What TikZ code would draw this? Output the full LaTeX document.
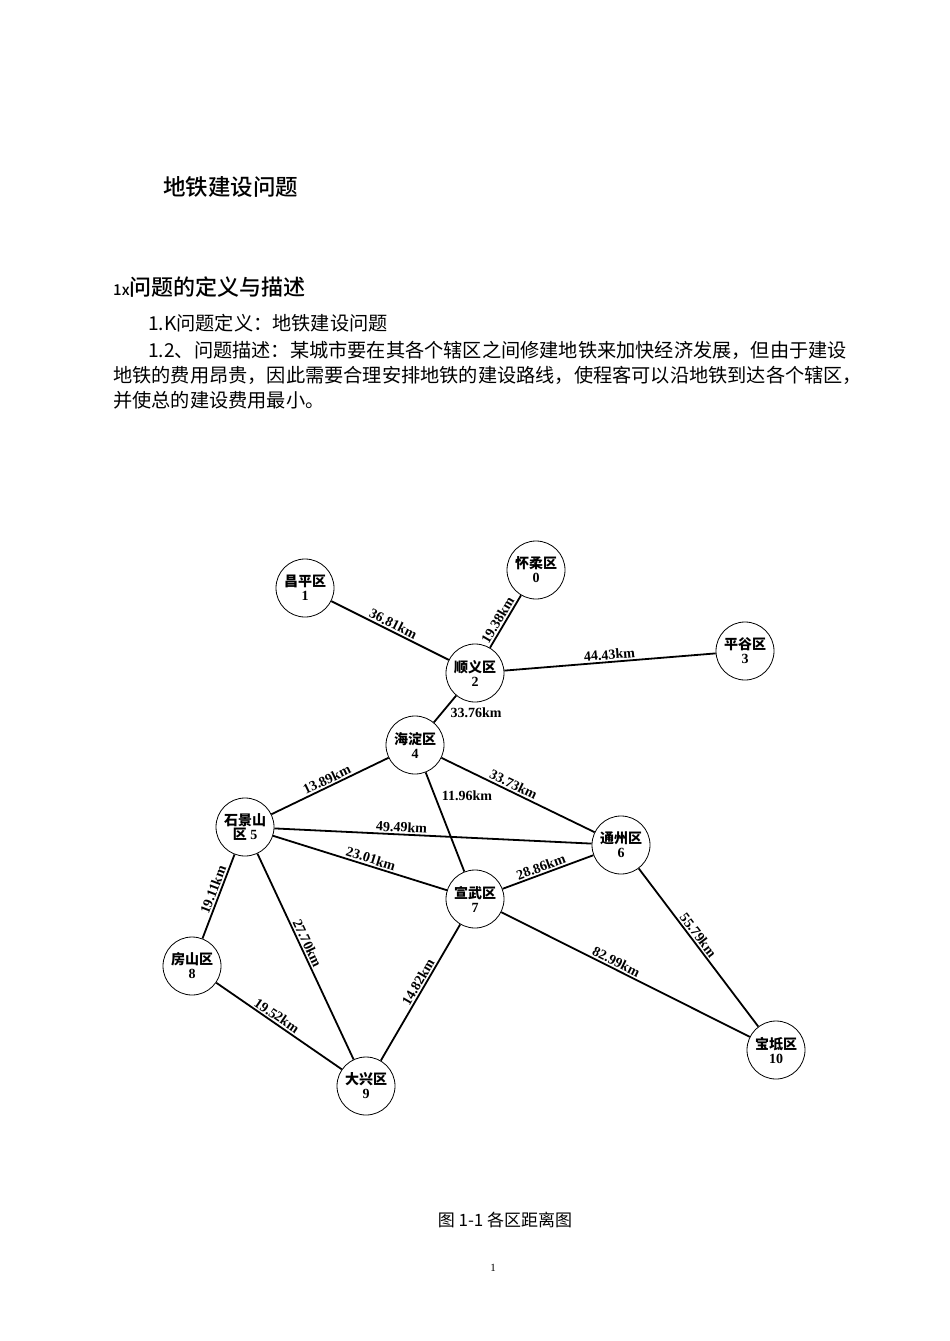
\documentclass[tikz,border=0pt]{standalone}
\usepackage{fontspec}
\setmainfont{Liberation Serif}
\newfontfamily\cjk{Noto Sans CJK SC}
\newfontfamily\cjkb{Noto Sans CJK SC Bold}
\newfontfamily\cjkm{Noto Sans CJK SC Medium}
\begin{document}
\begin{tikzpicture}[x=1pt,y=-1pt,
  district/.style={circle,draw,line width=0.8pt,minimum size=58pt,inner sep=0pt,align=center,font=\fontsize{14}{14}\selectfont\bfseries},
  edge/.style={line width=1.8pt},
  lab/.style={font=\fontsize{14}{14}\selectfont\bfseries,inner sep=1.5pt,sloped,above},
  body/.style={anchor=west,inner sep=0pt,font=\cjk\fontsize{19.2}{19.2}\selectfont}]
\useasboundingbox[fill=white] (0,0) rectangle (950,1341);
\node[anchor=west,inner sep=0pt,font=\cjkm\fontsize{22.5}{22.5}\selectfont] (title) at (163,187) {地铁建设问题};
\node[anchor=west,inner sep=0pt,font=\cjkm\fontsize{22}{22}\selectfont] (sec) at (113,287) {{\fontsize{15}{15}\selectfont 1x}问题的定义与描述};
\node[body] (l1) at (148,323) {1.K问题定义：地铁建设问题};
\node[body] (l2) at (148,350) {1.2、问题描述：某城市要在其各个辖区之间修建地铁来加快经济发展，但由于建设};
\node[body] (l3) at (113,375) {地铁的费用昂贵，因此需要合理安排地铁的建设路线，使程客可以沿地铁到达各个辖区，};
\node[body] (l4) at (113,400) {并使总的建设费用最小。};

\node[district] (n0) at (536,570) {{\cjkb 怀柔区}\\0};
\node[district] (n1) at (305,588) {{\cjkb 昌平区}\\1};
\node[district] (n2) at (475,673) {{\cjkb 顺义区}\\2};
\node[district] (n3) at (745,651) {{\cjkb 平谷区}\\3};
\node[district] (n4) at (415,745) {{\cjkb 海淀区}\\4};
\node[district] (n5) at (245,827) {{\cjkb 石景山}\\{\cjkb 区} 5};
\node[district] (n6) at (621,845) {{\cjkb 通州区}\\6};
\node[district] (n7) at (475,899) {{\cjkb 宣武区}\\7};
\node[district] (n8) at (192,966) {{\cjkb 房山区}\\8};
\node[district] (n9) at (366,1086) {{\cjkb 大兴区}\\9};
\node[district] (n10) at (776,1050) {{\cjkb 宝坻区}\\10};

\draw[edge] (n1) -- node[lab]{36.81km} (n2);
\draw[edge] (n2) -- node[lab,pos=.45]{19.38km} (n0);
\draw[edge] (n2) -- node[lab]{44.43km} (n3);
\draw[edge] (n2) -- (n4);
\node[font=\fontsize{14}{14}\selectfont\bfseries] (d24) at (476,713) {33.76km};
\draw[edge] (n5) -- node[lab]{13.89km} (n4);
\draw[edge] (n4) -- node[lab,pos=.45]{33.73km} (n6);
\draw[edge] (n4) -- (n7);
\node[font=\fontsize{14}{14}\selectfont\bfseries] (d47) at (467,796) {11.96km};
\draw[edge] (n5) -- node[lab,pos=.4]{49.49km} (n6);
\draw[edge] (n5) -- node[lab,pos=.55]{23.01km} (n7);
\draw[edge] (n7) -- node[lab,pos=.45]{28.86km} (n6);
\draw[edge] (n5) -- node[lab,pos=.45]{19.11km} (n8);
\draw[edge] (n5) -- node[lab,pos=.45]{27.70km} (n9);
\draw[edge] (n8) -- node[lab,pos=.45]{19.52km} (n9);
\draw[edge] (n9) -- node[lab,pos=.55]{14.82km} (n7);
\draw[edge] (n7) -- node[lab,pos=.45]{82.99km} (n10);
\draw[edge] (n6) -- node[lab,pos=.45]{55.79km} (n10);

\node[font=\cjk\fontsize{17}{17}\selectfont] (cap) at (505,1220) {图 1-1 各区距离图};
\node[font=\fontsize{11}{11}\selectfont] (pg) at (493,1268) {1};
\end{tikzpicture}
\end{document}
